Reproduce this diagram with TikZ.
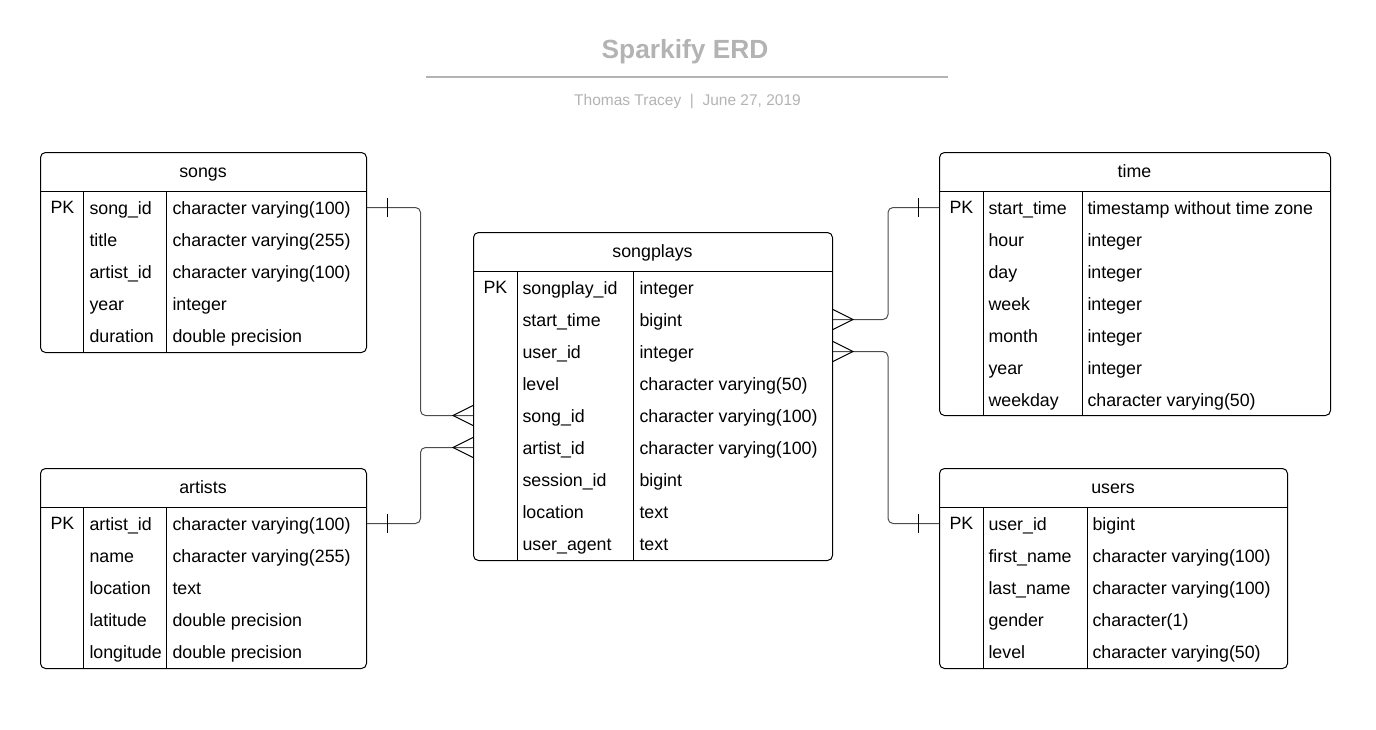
\documentclass[tikz,border=0pt]{standalone}
\usepackage{fontspec}
\setmainfont{Liberation Sans}
\definecolor{titlegray}{HTML}{B3B3B3}
\definecolor{linkgray}{HTML}{4D4D4D}
\tikzset{
  tbl/.style={draw, rounded corners=5pt, anchor=north west, inner sep=0pt},
  hdr/.style={anchor=base, inner sep=0pt, font=\fontsize{17.8}{20}\selectfont},
  cell/.style={anchor=north west, inner sep=0pt, align=left, font=\fontsize{17.8}{32}\selectfont},
  link/.style={draw=linkgray, rounded corners=5pt},
  ends/.style={draw=black},
}
\begin{document}
\begin{tikzpicture}[x=1pt,y=-1pt,line width=1pt]
\useasboundingbox (0,0) rectangle (1376,729);

% heading
\node[font=\bfseries\fontsize{26.3}{30}\selectfont, text=titlegray, anchor=base, inner sep=0pt] (title) at (685,58.5) {Sparkify ERD};
\draw[titlegray, line width=2pt] (426,76.5) -- (948,76.5);
\node[font=\fontsize{15.5}{18}\selectfont, text=titlegray, anchor=base, inner sep=0pt] (byline) at (687.5,105.5) {Thomas Tracey \ | \ June 27, 2019};

% songs
\node[tbl, minimum width=326pt, minimum height=200pt] (songs) at (40,152) {};
\draw (40,191.5) -- (366,191.5);
\draw (83.5,191.5) -- (83.5,352);
\draw (166.5,191.5) -- (166.5,352);
\node[hdr] (songs-hdr) at (203,177) {songs};
\node[cell] (songs-key) at (50,201) {PK};
\node[cell] (songs-col) at (89,201) {song\_id\\title\\artist\_id\\year\\duration};
\node[cell] (songs-type) at (172,201) {character varying(100)\\character varying(255)\\character varying(100)\\integer\\double precision};

% artists
\node[tbl, minimum width=326pt, minimum height=200pt] (artists) at (40,468) {};
\draw (40,507.5) -- (366,507.5);
\draw (83.5,507.5) -- (83.5,668);
\draw (166.5,507.5) -- (166.5,668);
\node[hdr] (artists-hdr) at (203,493) {artists};
\node[cell] (artists-key) at (50,517) {PK};
\node[cell] (artists-col) at (89,517) {artist\_id\\name\\location\\latitude\\longitude};
\node[cell] (artists-type) at (172,517) {character varying(100)\\character varying(255)\\text\\double precision\\double precision};

% songplays
\node[tbl, minimum width=359pt, minimum height=328pt] (songplays) at (473,232) {};
\draw (473,271.5) -- (832,271.5);
\draw (517.5,271.5) -- (517.5,560);
\draw (633.5,271.5) -- (633.5,560);
\node[hdr] (songplays-hdr) at (652.5,257) {songplays};
\node[cell] (songplays-key) at (483,281) {PK};
\node[cell] (songplays-col) at (522,281) {songplay\_id\\start\_time\\user\_id\\level\\song\_id\\artist\_id\\session\_id\\location\\user\_agent};
\node[cell] (songplays-type) at (639,281) {integer\\bigint\\integer\\character varying(50)\\character varying(100)\\character varying(100)\\bigint\\text\\text};

% time
\node[tbl, minimum width=391pt, minimum height=263pt] (time) at (939,152) {};
\draw (939,191.5) -- (1330,191.5);
\draw (983.5,191.5) -- (983.5,415);
\draw (1082.5,191.5) -- (1082.5,415);
\node[hdr] (time-hdr) at (1134.5,177) {time};
\node[cell] (time-key) at (949,201) {PK};
\node[cell] (time-col) at (988,201) {start\_time\\hour\\day\\week\\month\\year\\weekday};
\node[cell] (time-type) at (1087,201) {timestamp without time zone\\integer\\integer\\integer\\integer\\integer\\character varying(50)};

% users
\node[tbl, minimum width=348pt, minimum height=200pt] (users) at (939,468) {};
\draw (939,507.5) -- (1287,507.5);
\draw (983.5,507.5) -- (983.5,668);
\draw (1087.5,507.5) -- (1087.5,668);
\node[hdr] (users-hdr) at (1113,493) {users};
\node[cell] (users-key) at (949,517) {PK};
\node[cell] (users-col) at (988,517) {user\_id\\first\_name\\last\_name\\gender\\level};
\node[cell] (users-type) at (1092,517) {bigint\\character varying(100)\\character varying(100)\\character(1)\\character varying(50)};

% ports
\coordinate (songs-port) at (songs.east |- 0,207.5);
\coordinate (artists-port) at (artists.east |- 0,523.5);
\coordinate (sp-song) at (songplays.west |- 0,415.5);
\coordinate (sp-artist) at (songplays.west |- 0,447.5);
\coordinate (sp-time) at (songplays.east |- 0,319.5);
\coordinate (sp-user) at (songplays.east |- 0,351.5);
\coordinate (time-port) at (time.west |- 0,207.5);
\coordinate (users-port) at (users.west |- 0,523.5);

% relations
\draw[link] (songs-port) -- ++(53.5,0) |- (sp-song);
\draw[link] (artists-port) -- ++(53.5,0) |- (sp-artist);
\draw[link] (sp-time) -- ++(55,0) |- (time-port);
\draw[link] (sp-user) -- ++(55,0) |- (users-port);

% one ends
\draw[ends] ([xshift=20pt]songs-port) ++(0,-9.5) -- ++(0,19);
\draw[ends] ([xshift=20pt]artists-port) ++(0,-9.5) -- ++(0,19);
\draw[ends] ([xshift=-21pt]time-port) ++(0,-9.5) -- ++(0,19);
\draw[ends] ([xshift=-21pt]users-port) ++(0,-9.5) -- ++(0,19);

% many ends
\draw[ends] ([yshift=10pt]sp-song) -- ([xshift=-20pt]sp-song) -- ([yshift=-10pt]sp-song);
\draw[ends] ([yshift=10pt]sp-artist) -- ([xshift=-20pt]sp-artist) -- ([yshift=-10pt]sp-artist);
\draw[ends] ([yshift=10pt]sp-time) -- ([xshift=20pt]sp-time) -- ([yshift=-10pt]sp-time);
\draw[ends] ([yshift=10pt]sp-user) -- ([xshift=20pt]sp-user) -- ([yshift=-10pt]sp-user);
\end{tikzpicture}
\end{document}
